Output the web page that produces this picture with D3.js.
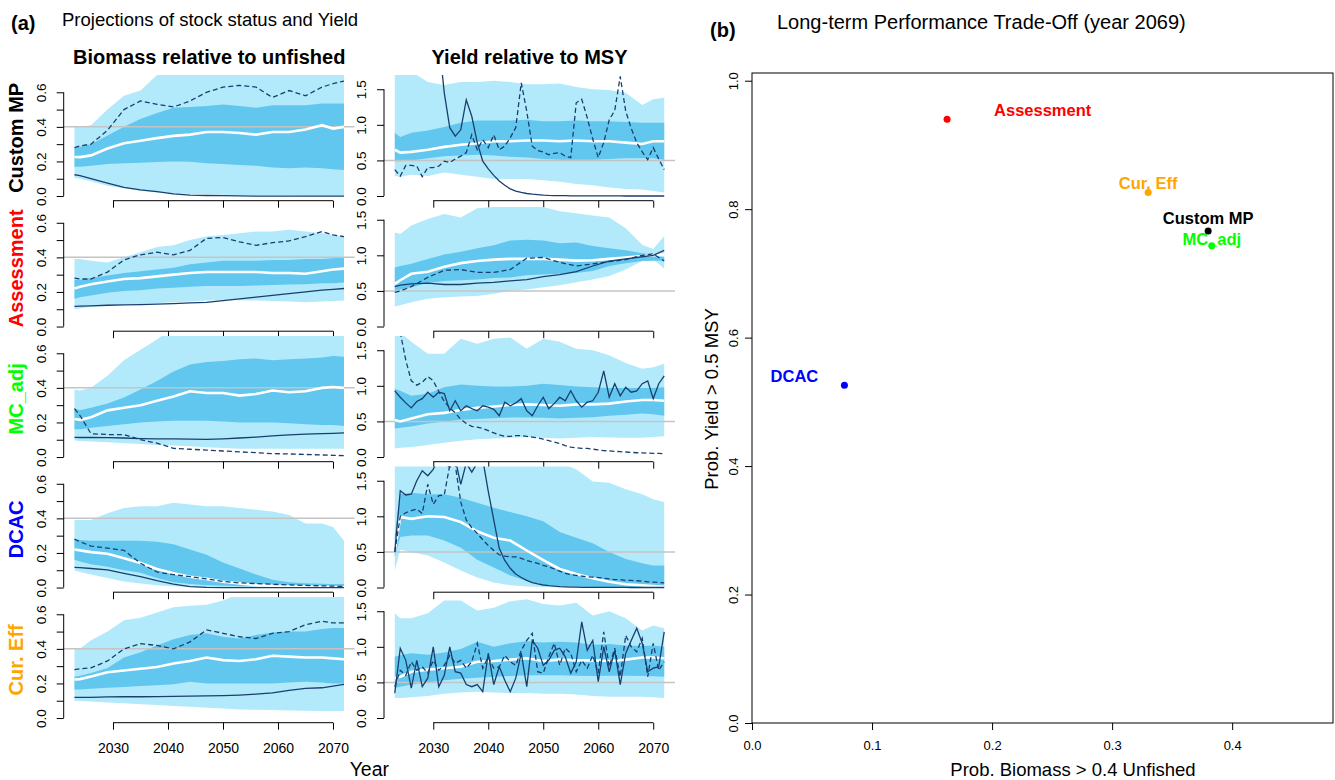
<!DOCTYPE html>
<html>
<head>
<meta charset="utf-8">
<script src="https://cdn.jsdelivr.net/npm/d3@7"></script>
<style>
body { margin: 0; background: #fff; }
svg { font-family: "Liberation Sans", Arial, sans-serif; }
</style>
</head>
<body>
<script>
// ---- data ----
var mps = ["Custom MP", "Assessment", "MC_adj", "DCAC", "Cur. Eff"];
var mpColors = ["black", "red", "#00ff00", "blue", "orange"];

// coarse grid for bands / smooth lines
var yrs = [2023, 2024, 2026, 2029, 2032, 2035, 2038, 2041, 2044, 2047, 2050, 2053, 2056, 2059, 2062, 2065, 2068, 2070, 2072];
// yearly grid for the noisy simulation lines
var yearsAll = [2023, 2024, 2025, 2026, 2027, 2028, 2029, 2030, 2031, 2032, 2033, 2034, 2035, 2036, 2037, 2038, 2039, 2040, 2041, 2042,
  2043, 2044, 2045, 2046, 2047, 2048, 2049, 2050, 2051, 2052, 2053, 2054, 2055, 2056, 2057, 2058, 2059, 2060, 2061, 2062,
  2063, 2064, 2065, 2066, 2067, 2068, 2069, 2070, 2071, 2072];

// Custom MP - biomass
var cmB_hi90 = [.40,.40,.41,.50,.58,.61,.70,.75,.75,.75,.75,.75,.75,.75,.75,.75,.75,.75,.75];
var cmB_hi50 = [.28,.285,.30,.35,.40,.445,.48,.51,.515,.52,.53,.52,.51,.525,.525,.525,.535,.535,.535];
var cmB_med  = [.226,.225,.235,.275,.305,.32,.335,.348,.355,.37,.37,.365,.355,.37,.37,.385,.41,.39,.40];
var cmB_lo50 = [.17,.17,.175,.185,.19,.193,.197,.20,.198,.19,.185,.18,.175,.165,.16,.165,.16,.155,.15];
var cmB_lo90 = [.105,.10,.085,.06,.045,.03,.02,.015,.012,.01,.008,.006,.005,.004,.004,.003,.003,.002,.002];
var cmB_s1   = [.123,.118,.10,.075,.05,.035,.025,.012,.005,.003,.002,.001,0,0,0,0,0,0,0];
var cmB_s2   = [.28,.29,.30,.38,.50,.55,.53,.515,.55,.60,.63,.64,.63,.57,.61,.58,.63,.65,.665];
// Custom MP - yield
var cmY_hi90 = [1.75,1.75,1.75,1.60,1.56,1.60,1.60,1.62,1.60,1.57,1.57,1.58,1.53,1.50,1.49,1.45,1.28,1.36,1.38];
var cmY_hi50 = [0.89,0.83,0.89,0.92,0.97,1.03,1.06,1.06,1.06,1.07,1.05,1.05,1.06,1.05,1.05,1.04,1.03,1.03,1.03];
var cmY_med  = [0.65,0.61,0.62,0.65,0.69,0.72,0.74,0.77,0.77,0.78,0.78,0.77,0.78,0.77,0.77,0.75,0.73,0.77,0.77];
var cmY_lo50 = [0.49,0.49,0.50,0.53,0.56,0.57,0.58,0.57,0.55,0.54,0.52,0.51,0.51,0.51,0.52,0.53,0.53,0.53,0.51];
var cmY_lo90 = [0.28,0.27,0.30,0.28,0.33,0.30,0.27,0.24,0.24,0.24,0.22,0.20,0.17,0.15,0.12,0.10,0.09,0.07,0.05];
var cmY_s1 = [2.6,2.6,2.5,2.5,2.4,2.4,2.3,2.3,2.2,1.45,0.96,0.84,0.93,1.35,1.12,0.75,0.49,0.38,0.29,0.21,
  0.15,0.10,0.07,0.05,0.035,0.025,0.018,0.012,0.008,0.006,0.005,0.004,0.003,0.003,0.002,0.002,0.002,0.001,0.001,0.001,
  0.001,0.001,0,0,0,0,0,0,0,0];
var cmY_s2 = [0.37,0.28,0.43,0.43,0.42,0.27,0.40,0.40,0.42,0.49,0.47,0.52,0.56,0.61,0.86,0.65,0.79,0.68,0.86,0.65,
  0.70,0.82,0.96,1.59,1.19,0.70,0.64,0.62,0.58,0.60,0.61,0.56,0.54,1.31,1.36,1.10,0.80,0.54,0.75,1.07,
  1.20,1.68,1.19,0.95,0.75,0.62,0.51,0.68,0.52,0.37];

// Assessment - biomass
var asB_hi90 = [.39,.39,.38,.37,.40,.43,.46,.47,.50,.52,.53,.54,.55,.55,.56,.55,.54,.53,.52];
var asB_hi50 = [.27,.27,.28,.295,.31,.32,.33,.34,.36,.37,.38,.38,.38,.385,.385,.39,.39,.395,.40];
var asB_med  = [.22,.23,.245,.26,.275,.28,.29,.30,.31,.315,.315,.315,.315,.31,.31,.305,.32,.33,.335];
var asB_lo50 = [.16,.17,.18,.195,.205,.21,.22,.225,.23,.235,.235,.235,.237,.24,.243,.245,.25,.25,.255];
var asB_lo90 = [.10,.105,.115,.122,.128,.13,.135,.14,.145,.15,.152,.152,.15,.148,.145,.14,.145,.148,.15];
var asB_s1   = [.117,.118,.12,.123,.125,.127,.13,.133,.137,.14,.15,.16,.17,.18,.19,.20,.21,.215,.22];
var asB_s2   = [.28,.275,.275,.315,.385,.415,.43,.415,.44,.51,.515,.49,.47,.485,.495,.52,.55,.53,.52];
// Assessment - yield
var asY_hi90 = [1.32,1.30,1.42,1.51,1.58,1.53,1.66,1.68,1.68,1.68,1.68,1.62,1.59,1.56,1.53,1.38,1.15,1.09,1.27];
var asY_hi50 = [0.83,0.85,0.88,0.95,1.01,1.05,1.10,1.14,1.21,1.22,1.21,1.17,1.18,1.13,1.10,1.07,1.03,1.01,0.97];
var asY_med  = [0.60,0.65,0.74,0.77,0.84,0.89,0.92,0.94,0.95,0.95,0.95,0.94,0.925,0.93,0.95,0.97,0.99,1.0,1.01];
var asY_lo50 = [0.50,0.52,0.55,0.61,0.64,0.65,0.66,0.68,0.69,0.72,0.73,0.74,0.75,0.78,0.85,0.89,0.92,0.925,0.925];
var asY_lo90 = [0.28,0.30,0.34,0.39,0.41,0.42,0.43,0.46,0.50,0.52,0.55,0.58,0.62,0.66,0.71,0.80,0.92,0.95,0.81];
var asY_s1   = [0.56,0.58,0.60,0.61,0.59,0.59,0.61,0.62,0.64,0.66,0.70,0.73,0.77,0.85,0.92,0.95,0.98,1.0,1.07];
var asY_s2   = [0.48,0.50,0.56,0.69,0.79,0.80,0.76,0.76,0.80,0.96,0.97,0.90,0.85,0.88,0.91,0.94,1.0,1.02,0.92];

// MC_adj - biomass
var mcB_hi90 = [.39,.385,.40,.47,.56,.62,.68,.75,.75,.75,.75,.75,.75,.75,.75,.75,.75,.75,.75];
var mcB_hi50 = [.28,.27,.285,.31,.345,.39,.44,.495,.535,.55,.555,.565,.57,.56,.565,.57,.575,.585,.58];
var mcB_med  = [.22,.215,.23,.27,.285,.30,.325,.35,.38,.37,.37,.355,.365,.385,.375,.38,.40,.405,.40];
var mcB_lo50 = [.16,.16,.17,.18,.19,.20,.205,.21,.21,.21,.205,.20,.20,.20,.195,.19,.185,.185,.18];
var mcB_lo90 = [.095,.093,.09,.086,.08,.076,.07,.066,.062,.057,.052,.048,.048,.048,.048,.048,.048,.048,.048];
var mcB_s1   = [.114,.113,.113,.112,.11,.107,.105,.105,.103,.102,.105,.11,.115,.122,.128,.132,.135,.137,.14];
var mcB_s2   = [.28,.24,.135,.13,.13,.10,.08,.05,.045,.04,.035,.03,.025,.02,.018,.015,.012,.01,.008];
// MC_adj - yield
var mcY_hi90 = [1.75,1.75,1.62,1.45,1.45,1.66,1.59,1.66,1.68,1.52,1.66,1.62,1.52,1.50,1.43,1.32,1.24,1.26,1.31];
var mcY_hi50 = [0.96,0.93,0.86,0.89,0.98,1.02,1.0,0.99,0.99,1.0,1.03,1.01,0.99,0.98,0.97,0.97,0.97,0.97,0.98];
var mcY_med  = [0.52,0.50,0.54,0.60,0.62,0.66,0.69,0.71,0.73,0.74,0.73,0.72,0.74,0.74,0.75,0.78,0.80,0.80,0.79];
var mcY_lo50 = [0.40,0.41,0.43,0.47,0.50,0.525,0.535,0.545,0.555,0.555,0.55,0.54,0.55,0.56,0.58,0.595,0.61,0.60,0.58];
var mcY_lo90 = [0.12,0.13,0.14,0.17,0.20,0.23,0.25,0.26,0.27,0.28,0.27,0.26,0.27,0.28,0.275,0.27,0.27,0.28,0.29];
var mcY_s1 = [0.93,0.84,0.76,0.69,0.78,0.82,0.91,0.84,0.91,0.89,0.65,0.79,0.65,0.72,0.68,0.65,0.72,0.70,0.67,0.58,
  0.77,0.72,0.76,0.82,0.65,0.58,0.72,0.84,0.68,0.75,0.84,0.79,0.93,0.79,0.70,0.77,0.79,0.91,1.21,0.84,
  1.03,0.86,0.98,0.91,0.93,1.03,1.07,0.82,1.03,1.14];
var mcY_s2 = [2.2,1.75,1.36,1.07,1.01,1.05,1.13,1.07,0.92,0.78,0.69,0.62,0.53,0.47,0.43,0.42,0.40,0.37,0.34,0.31,
  0.29,0.29,0.30,0.30,0.29,0.28,0.27,0.25,0.23,0.21,0.19,0.16,0.14,0.13,0.12,0.12,0.11,0.10,0.09,0.085,
  0.08,0.075,0.07,0.065,0.06,0.058,0.055,0.052,0.05,0.047];

// DCAC - biomass
var dcB_hi90 = [.39,.39,.39,.43,.46,.47,.47,.49,.48,.47,.47,.46,.45,.44,.42,.37,.37,.35,.27];
var dcB_hi50 = [.28,.275,.27,.27,.27,.27,.265,.25,.22,.19,.145,.11,.075,.045,.03,.025,.022,.02,.02];
var dcB_med  = [.22,.215,.205,.195,.17,.142,.107,.083,.062,.05,.033,.024,.014,.01,.007,.005,.004,.003,.002];
var dcB_lo50 = [.16,.15,.135,.12,.10,.085,.055,.03,.02,.013,.01,.008,.007,.006,.005,.004,.003,.003,.002];
var dcB_lo90 = [.10,.09,.075,.055,.035,.024,.013,.008,.005,.003,.002,.002,.001,.001,.001,.001,.001,.001,.001];
var dcB_s1   = [.116,.115,.11,.102,.082,.063,.04,.02,.005,.001,0,0,0,0,0,0,0,0,0];
var dcB_s2   = [.28,.265,.24,.228,.215,.14,.09,.075,.063,.05,.035,.027,.023,.019,.015,.012,.01,.008,.006];
// DCAC - yield
var dcY_hi90 = [1.75,1.75,1.75,1.75,1.75,1.75,1.75,1.75,1.75,1.75,1.75,1.75,1.66,1.49,1.47,1.38,1.31,1.24,1.20];
var dcY_hi50 = [0.75,1.31,1.33,1.31,1.31,1.26,1.19,1.12,1.06,1.0,0.93,0.78,0.70,0.62,0.50,0.40,0.34,0.31,0.31];
var dcY_med  = [0.52,0.99,0.965,1.0,0.99,0.92,0.79,0.70,0.66,0.52,0.385,0.26,0.19,0.13,0.08,0.045,0.03,0.02,0.01];
var dcY_lo50 = [0.43,0.71,0.73,0.73,0.66,0.56,0.39,0.28,0.17,0.09,0.04,0.02,0.012,0.008,0.005,0.004,0.003,0.002,0.002];
var dcY_lo90 = [0.24,0.53,0.50,0.45,0.35,0.24,0.14,0.07,0.03,0.015,0.008,0.004,0.003,0.002,0.002,0.001,0.001,0.001,0.001];
var dcY_s1 = [0.50,1.36,1.30,1.31,1.50,1.64,1.57,1.66,1.85,1.75,1.69,1.80,1.45,1.75,1.62,1.75,1.80,1.35,0.95,0.55,
  0.38,0.27,0.19,0.14,0.10,0.07,0.05,0.035,0.025,0.018,0.012,0.008,0.005,0.004,0.003,0.003,0.002,0.002,0.002,0.001,
  0.001,0.001,0.001,0,0,0,0,0,0,0];
var dcY_s2 = [0.50,1.00,1.05,1.08,1.10,1.04,1.45,1.17,1.29,1.30,1.72,1.72,1.20,0.95,0.84,0.76,0.67,0.59,0.52,0.46,
  0.44,0.43,0.43,0.41,0.38,0.36,0.34,0.31,0.29,0.26,0.23,0.20,0.18,0.17,0.16,0.15,0.145,0.14,0.13,0.12,
  0.11,0.11,0.10,0.10,0.095,0.09,0.08,0.075,0.07,0.065];

// Cur. Eff - biomass
var ceB_hi90 = [.40,.40,.45,.50,.565,.58,.61,.64,.65,.655,.68,.72,.72,.72,.72,.72,.72,.72,.72];
var ceB_hi50 = [.24,.245,.26,.29,.35,.38,.42,.455,.48,.49,.47,.46,.48,.495,.50,.50,.515,.52,.52];
var ceB_med  = [.223,.225,.24,.265,.275,.285,.295,.315,.33,.35,.335,.33,.34,.36,.355,.35,.35,.345,.34];
var ceB_lo50 = [.165,.165,.17,.175,.18,.185,.19,.195,.21,.20,.20,.20,.20,.20,.205,.21,.205,.20,.20];
var ceB_lo90 = [.10,.098,.095,.09,.085,.08,.075,.07,.065,.06,.055,.05,.048,.046,.044,.042,.04,.04,.04];
var ceB_s1   = [.12,.12,.12,.122,.123,.123,.124,.125,.127,.128,.13,.133,.138,.145,.16,.172,.175,.185,.195];
var ceB_s2   = [.28,.285,.29,.33,.40,.43,.42,.40,.44,.51,.49,.47,.46,.49,.50,.54,.56,.55,.55];
// Cur. Eff - yield
var ceY_hi90 = [1.47,1.40,1.40,1.47,1.65,1.65,1.51,1.55,1.64,1.67,1.60,1.58,1.62,1.44,1.50,1.40,1.23,1.30,1.26];
var ceY_hi50 = [0.86,0.88,0.91,0.89,0.92,0.97,1.07,1.0,1.05,1.08,1.06,1.07,1.06,1.03,1.04,1.02,1.01,1.02,1.0];
var ceY_med  = [0.56,0.58,0.65,0.68,0.70,0.72,0.79,0.80,0.82,0.84,0.80,0.82,0.81,0.81,0.80,0.82,0.85,0.85,0.84];
var ceY_lo50 = [0.42,0.44,0.47,0.50,0.53,0.55,0.565,0.58,0.59,0.60,0.60,0.60,0.595,0.59,0.595,0.595,0.59,0.585,0.58];
var ceY_lo90 = [0.28,0.28,0.29,0.31,0.34,0.36,0.37,0.36,0.35,0.35,0.34,0.34,0.33,0.31,0.30,0.30,0.30,0.29,0.28];
var ceY_s1 = [0.35,0.98,0.81,0.42,0.81,0.44,0.56,1.0,0.44,0.60,1.0,0.65,0.63,0.47,0.44,0.47,0.37,0.91,0.47,0.72,
  0.53,0.37,0.56,0.91,0.44,1.09,0.98,0.74,0.81,0.95,0.98,0.86,0.63,0.79,1.35,0.95,1.09,0.51,1.0,0.65,
  0.95,0.47,0.91,1.09,1.26,1.05,0.65,0.70,0.72,1.21];
var ceY_s2 = [0.44,0.67,0.60,0.79,0.67,0.72,0.63,0.81,0.67,0.74,0.88,0.77,0.81,0.70,0.79,1.05,0.70,0.86,0.70,0.72,
  0.88,0.79,0.74,0.95,1.09,1.19,0.65,0.63,0.86,1.05,0.74,0.98,0.91,0.65,0.81,0.70,0.88,0.63,1.21,0.72,
  0.98,0.58,1.16,1.0,0.93,1.12,0.58,1.05,0.67,0.79];

// trade-off panel (b)
var pBiomass = [0.38, 0.1625, 0.383, 0.077, 0.33];
var pYield   = [0.766, 0.94, 0.743, 0.526, 0.826];

var xTickYears = [2030, 2040, 2050, 2060, 2070];
var bioTicks = [0, 0.1, 0.2, 0.3, 0.4, 0.5, 0.6];
var yldTicks = [0, 0.5, 1.0, 1.5];

// ---- panel table built from the arrays ----
var panels = [
  {row:0, col:0, hi90:cmB_hi90, hi50:cmB_hi50, med:cmB_med, lo50:cmB_lo50, lo90:cmB_lo90, s1:cmB_s1, s1x:yrs, s2:cmB_s2, s2x:yrs},
  {row:0, col:1, hi90:cmY_hi90, hi50:cmY_hi50, med:cmY_med, lo50:cmY_lo50, lo90:cmY_lo90, s1:cmY_s1, s1x:yearsAll, s2:cmY_s2, s2x:yearsAll},
  {row:1, col:0, hi90:asB_hi90, hi50:asB_hi50, med:asB_med, lo50:asB_lo50, lo90:asB_lo90, s1:asB_s1, s1x:yrs, s2:asB_s2, s2x:yrs},
  {row:1, col:1, hi90:asY_hi90, hi50:asY_hi50, med:asY_med, lo50:asY_lo50, lo90:asY_lo90, s1:asY_s1, s1x:yrs, s2:asY_s2, s2x:yrs},
  {row:2, col:0, hi90:mcB_hi90, hi50:mcB_hi50, med:mcB_med, lo50:mcB_lo50, lo90:mcB_lo90, s1:mcB_s1, s1x:yrs, s2:mcB_s2, s2x:yrs},
  {row:2, col:1, hi90:mcY_hi90, hi50:mcY_hi50, med:mcY_med, lo50:mcY_lo50, lo90:mcY_lo90, s1:mcY_s1, s1x:yearsAll, s2:mcY_s2, s2x:yearsAll},
  {row:3, col:0, hi90:dcB_hi90, hi50:dcB_hi50, med:dcB_med, lo50:dcB_lo50, lo90:dcB_lo90, s1:dcB_s1, s1x:yrs, s2:dcB_s2, s2x:yrs},
  {row:3, col:1, hi90:dcY_hi90, hi50:dcY_hi50, med:dcY_med, lo50:dcY_lo50, lo90:dcY_lo90, s1:dcY_s1, s1x:yearsAll, s2:dcY_s2, s2x:yearsAll},
  {row:4, col:0, hi90:ceB_hi90, hi50:ceB_hi50, med:ceB_med, lo50:ceB_lo50, lo90:ceB_lo90, s1:ceB_s1, s1x:yrs, s2:ceB_s2, s2x:yrs},
  {row:4, col:1, hi90:ceY_hi90, hi50:ceY_hi50, med:ceY_med, lo50:ceY_lo50, lo90:ceY_lo90, s1:ceY_s1, s1x:yearsAll, s2:ceY_s2, s2x:yearsAll}
];

// ---- layout / style ----
var lightCol = "#b2eafb", darkCol = "#62c7ef", simCol = "#193f6e", refCol = "#c4c4c4";
var rowY0 = 196, rowStep = 130.5;           // pixel of value 0 in first row, row pitch
var colX = [[63.7, 354.8], [384, 675]];
var yDom = [[-0.027, 0.70], [-0.066, 1.70]];
var refVal = [0.4, 0.5];

var svg = d3.select("body").append("svg").attr("width", 1335).attr("height", 780);
var defs = svg.append("defs");

function rotLabels(sel, off) {
  sel.selectAll(".tick text")
    .attr("x", null).attr("dy", null)
    .attr("text-anchor", "middle")
    .attr("transform", "translate(" + (-off) + ",0) rotate(-90)");
}

panels.forEach(function(p, k) {
  var y0 = rowY0 + rowStep * p.row;
  var top = y0 - 121, bot = y0 + 4.7;
  var xr = colX[p.col];
  var x = d3.scaleLinear().domain([2021.04, 2073.96]).range(xr);
  var y = d3.scaleLinear().domain(yDom[p.col]).range([bot, top]);

  defs.append("clipPath").attr("id", "clip" + k)
    .append("rect").attr("x", xr[0]).attr("y", top).attr("width", xr[1] - xr[0]).attr("height", bot - top);
  var g = svg.append("g").attr("clip-path", "url(#clip" + k + ")");

  function band(lo, hi) {
    return d3.area()
      .x(function(d) { return x(d); })
      .y0(function(d, i) { return y(lo[i]); })
      .y1(function(d, i) { return y(hi[i]); })(yrs);
  }
  function line(xs, vals) {
    return d3.line().x(function(d, i) { return x(xs[i]); }).y(function(d) { return y(d); })(vals);
  }

  g.append("path").attr("d", band(p.lo90, p.hi90)).attr("fill", lightCol);
  g.append("path").attr("d", band(p.lo50, p.hi50)).attr("fill", darkCol);
  g.append("line")
    .attr("x1", xr[0]).attr("x2", xr[1])
    .attr("y1", y(refVal[p.col])).attr("y2", y(refVal[p.col]))
    .attr("stroke", refCol).attr("stroke-width", 1.5);
  g.append("path").attr("d", line(yrs, p.med)).attr("fill", "none")
    .attr("stroke", "white").attr("stroke-width", 2.6);
  g.append("path").attr("d", line(p.s1x, p.s1)).attr("fill", "none")
    .attr("stroke", simCol).attr("stroke-width", 1.3);
  g.append("path").attr("d", line(p.s2x, p.s2)).attr("fill", "none")
    .attr("stroke", simCol).attr("stroke-width", 1.3).attr("stroke-dasharray", "5,3");

  // y axis
  var ticks = p.col === 0 ? bioTicks : yldTicks;
  var yAx = svg.append("g").attr("transform", "translate(" + xr[0] + ",0)")
    .call(d3.axisLeft(y).tickValues(ticks).tickSize(7).tickSizeOuter(0)
      .tickFormat(function(d) {
        if (p.col === 0) return (Math.round(d * 10) % 2 === 0) ? d.toFixed(1) : "";
        return d.toFixed(1);
      }));
  yAx.select(".domain").remove();
  yAx.append("line").attr("y1", y(0)).attr("y2", y(ticks[ticks.length - 1])).attr("stroke", "black");
  yAx.selectAll("text").style("font-size", "13.5px").attr("fill", "black");
  rotLabels(yAx, 18);

  // x axis
  var xAx = svg.append("g").attr("transform", "translate(0," + bot + ")")
    .call(d3.axisBottom(x).tickValues(xTickYears).tickSize(7).tickSizeOuter(0)
      .tickFormat(p.row === 4 ? d3.format("d") : function() { return ""; }));
  xAx.select(".domain").remove();
  xAx.append("line").attr("x1", x(2030)).attr("x2", x(2070)).attr("stroke", "black");
  xAx.selectAll("text").attr("y", 30).attr("dy", null).style("font-size", "14px").attr("fill", "black");

  if (p.col === 0) {
    svg.append("text")
      .attr("transform", "translate(23," + ((top + bot) / 2) + ") rotate(-90)")
      .attr("text-anchor", "middle")
      .style("font-size", "20px").style("font-weight", "bold")
      .attr("fill", mpColors[p.row])
      .text(mps[p.row]);
  }
});

// column titles etc.
svg.append("text").attr("x", (colX[0][0] + colX[0][1]) / 2).attr("y", 64).attr("text-anchor", "middle")
  .style("font-size", "20px").style("font-weight", "bold").text("Biomass relative to unfished");
svg.append("text").attr("x", (colX[1][0] + colX[1][1]) / 2).attr("y", 64).attr("text-anchor", "middle")
  .style("font-size", "20px").style("font-weight", "bold").text("Yield relative to MSY");
svg.append("text").attr("x", 11).attr("y", 30).style("font-size", "20px").style("font-weight", "bold").text("(a)");
svg.append("text").attr("x", 62).attr("y", 26).style("font-size", "18.5px").text("Projections of stock status and Yield");
svg.append("text").attr("x", (colX[0][0] + colX[1][1]) / 2).attr("y", 776).attr("text-anchor", "middle")
  .style("font-size", "19.5px").text("Year");

// ---- panel (b) ----
var bx = d3.scaleLinear().domain([0, 0.484]).range([752, 1333]);
var by = d3.scaleLinear().domain([0, 1.012]).range([723, 73]);

svg.append("rect").attr("x", 752).attr("y", 73).attr("width", 1333 - 752).attr("height", 723 - 73)
  .attr("fill", "none").attr("stroke", "black").attr("stroke-width", 1);

var bxAx = svg.append("g").attr("transform", "translate(0,723)")
  .call(d3.axisBottom(bx).tickValues([0, 0.1, 0.2, 0.3, 0.4]).tickSize(7).tickSizeOuter(0).tickFormat(d3.format(".1f")));
bxAx.select(".domain").remove();
bxAx.selectAll("text").attr("y", 27).attr("dy", null).style("font-size", "13px");

var byAx = svg.append("g").attr("transform", "translate(752,0)")
  .call(d3.axisLeft(by).tickValues([0, 0.2, 0.4, 0.6, 0.8, 1.0]).tickSize(7).tickSizeOuter(0).tickFormat(d3.format(".1f")));
byAx.select(".domain").remove();
byAx.selectAll("text").style("font-size", "13px");
rotLabels(byAx, 14);

var labelNudge = [
  {dx: 0, dy: -7, anchor: "middle"},
  {dx: 47, dy: -3, anchor: "start"},
  {dx: 0, dy: -1, anchor: "middle"},
  {dx: -50, dy: -3, anchor: "middle"},
  {dx: 0, dy: -3, anchor: "middle"}
];

svg.selectAll(".pt").data(mps).enter().append("circle")
  .attr("class", "pt")
  .attr("cx", function(d, i) { return bx(pBiomass[i]); })
  .attr("cy", function(d, i) { return by(pYield[i]); })
  .attr("r", 3.5)
  .attr("fill", function(d, i) { return mpColors[i]; });

svg.selectAll(".ptlab").data(mps).enter().append("text")
  .attr("class", "ptlab")
  .attr("x", function(d, i) { return bx(pBiomass[i]) + labelNudge[i].dx; })
  .attr("y", function(d, i) { return by(pYield[i]) + labelNudge[i].dy; })
  .attr("text-anchor", function(d, i) { return labelNudge[i].anchor; })
  .style("font-size", "16.5px").style("font-weight", "bold")
  .attr("fill", function(d, i) { return mpColors[i]; })
  .text(function(d) { return d; });

svg.append("text").attr("x", 710).attr("y", 37).style("font-size", "20px").style("font-weight", "bold").text("(b)");
svg.append("text").attr("x", 777).attr("y", 29).style("font-size", "20px").text("Long-term Performance Trade-Off (year 2069)");
svg.append("text").attr("x", 1073).attr("y", 776).attr("text-anchor", "middle")
  .style("font-size", "18.5px").text("Prob. Biomass > 0.4 Unfished");
svg.append("text").attr("transform", "translate(718,399) rotate(-90)").attr("text-anchor", "middle")
  .style("font-size", "18.5px").text("Prob. Yield > 0.5 MSY");
</script>
</body>
</html>
